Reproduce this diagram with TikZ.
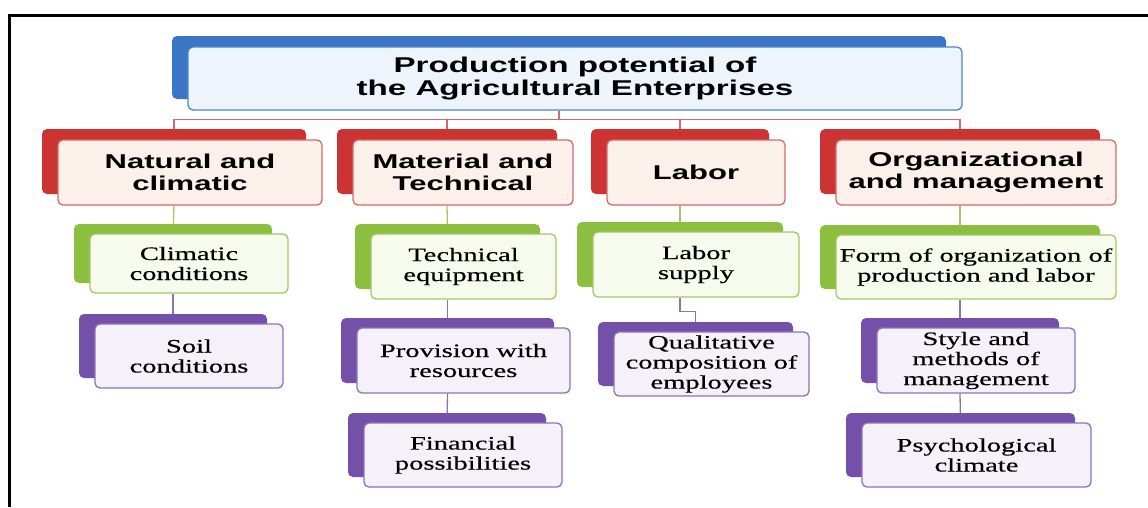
\documentclass[tikz,border=0pt]{standalone}
\usepackage{fontspec}
\setmainfont{Liberation Serif}[FakeStretch=1.5, FakeBold=0.4]
\newfontfamily\headfont{Liberation Sans}[FakeStretch=1.55]
\usetikzlibrary{shadows}
\pgfdeclarelayer{background}
\pgfsetlayers{background,main}

\definecolor{blueback}{HTML}{3A76C4}
\definecolor{blueedge}{HTML}{4A86D0}
\definecolor{bluefill}{HTML}{EEF4FB}
\definecolor{redback}{HTML}{CC3333}
\definecolor{rededge}{HTML}{D46A6A}
\definecolor{redfill}{HTML}{FCF0EA}
\definecolor{greenback}{HTML}{8CBF3F}
\definecolor{greenedge}{HTML}{A2C866}
\definecolor{greenfill}{HTML}{F7FBEE}
\definecolor{purpback}{HTML}{7550A8}
\definecolor{purpedge}{HTML}{8E72B8}
\definecolor{purpfill}{HTML}{F4F1F8}

\tikzset{
	card/.style={rounded corners=5pt, line width=1.3pt, inner sep=0pt, align=center},
	topbox/.style={card, draw=blueedge, fill=bluefill, minimum width=774pt, minimum height=63pt,
		font=\headfont\bfseries\fontsize{21.4}{23}\selectfont,
		general shadow={shadow xshift=-16pt, shadow yshift=11pt, fill=blueback}},
	headbox/.style={card, draw=rededge, fill=redfill, minimum height=65pt,
		font=\headfont\bfseries\fontsize{20}{22}\selectfont,
		general shadow={shadow xshift=-16pt, shadow yshift=11pt, fill=redback}},
	greenbox/.style={card, draw=greenedge, fill=greenfill,
		font=\fontsize{19}{20}\selectfont,
		general shadow={shadow xshift=-16pt, shadow yshift=10pt, fill=greenback}},
	purplebox/.style={card, draw=purpedge, fill=purpfill,
		font=\fontsize{19}{20}\selectfont,
		general shadow={shadow xshift=-16pt, shadow yshift=10pt, fill=purpback}},
	redlink/.style={draw=rededge, line width=1.3pt},
	greenlink/.style={draw=greenedge, line width=1.3pt},
	purplelink/.style={draw=purpedge, line width=1.3pt}
}

\begin{document}
\begin{tikzpicture}[x=1pt, y=-1pt]
	\useasboundingbox (0,0) rectangle (1148,507);
	\draw[line width=3pt] (9.5,507) -- (9.5,15.5) -- (1148,15.5);

	\node[topbox] (top) at (575,78.5) {Production potential of\\the Agricultural Enterprises};

	\node[headbox, minimum width=264pt] (nat) at (190,172.5) {Natural and\\climatic};
	\node[headbox, minimum width=220pt] (mat) at (463,172.5) {Material and\\Technical};
	\node[headbox, minimum width=178pt] (lab) at (696,172.5) {Labor};
	\node[headbox, minimum width=280pt] (org) at (976,172.5) {Organizational\\and management};

	\node[greenbox, minimum width=198pt, minimum height=59pt] (clim) at (189,263.5) {Climatic\\conditions};
	\node[purplebox, minimum width=188pt, minimum height=64pt] (soil) at (189,356) {Soil\\conditions};

	\node[greenbox, minimum width=185pt, minimum height=65pt] (tech) at (463.5,266.5) {Technical\\equipment};
	\node[purplebox, minimum width=213pt, minimum height=65pt] (prov) at (463.5,360.5) {Provision with\\resources};
	\node[purplebox, minimum width=198pt, minimum height=64pt] (fin) at (463,455) {Financial\\possibilities};

	\node[greenbox, minimum width=206pt, minimum height=65pt] (supply) at (696,264.5) {Labor\\supply};
	\node[purplebox, minimum width=195pt, minimum height=64pt] (qual) at (711.5,364) {Qualitative\\composition of\\employees};

	\node[greenbox, minimum width=280pt, minimum height=64pt] (form) at (976,267) {Form of organization of\\production and labor};
	\node[purplebox, minimum width=198pt, minimum height=65pt] (style) at (976,360.5) {Style and\\methods of\\management};
	\node[purplebox, minimum width=229pt, minimum height=64pt] (psych) at (976.5,455) {Psychological\\climate};

	\begin{pgfonlayer}{background}
		\draw[redlink] ([xshift=-16pt]top.south) -- ++(0,9) -| ([xshift=-16pt]nat.north);
		\draw[redlink] ([xshift=-16pt]top.south) -- ++(0,9) -| ([xshift=-16pt]mat.north);
		\draw[redlink] ([xshift=-16pt]top.south) -- ++(0,9) -| ([xshift=-16pt]lab.north);
		\draw[redlink] ([xshift=-16pt]top.south) -- ++(0,9) -| ([xshift=-16pt]org.north);

		\draw[greenlink] ([xshift=-16pt]nat.south) -- ([xshift=-16pt]clim.north);
		\draw[purplelink] ([xshift=-16pt]clim.south) -- ([xshift=-16pt]soil.north);
		\draw[greenlink] ([xshift=-16pt]mat.south) -- ([xshift=-16pt]tech.north);
		\draw[purplelink] ([xshift=-16pt]tech.south) -- ([xshift=-16pt]prov.north);
		\draw[purplelink] ([xshift=-16pt]prov.south) -- ([xshift=-16pt]fin.north);
		\draw[greenlink] ([xshift=-16pt]lab.south) -- ([xshift=-16pt]supply.north);
		\draw[purplelink] ([xshift=-16pt]supply.south) -- ++(0,14) -| ([xshift=-16pt]qual.north);
		\draw[greenlink] ([xshift=-16pt]org.south) -- ([xshift=-16pt]form.north);
		\draw[purplelink] ([xshift=-16pt]form.south) -- ([xshift=-16pt]style.north);
		\draw[purplelink] ([xshift=-16pt]style.south) -- ([xshift=-16pt]psych.north);
	\end{pgfonlayer}
\end{tikzpicture}
\end{document}
